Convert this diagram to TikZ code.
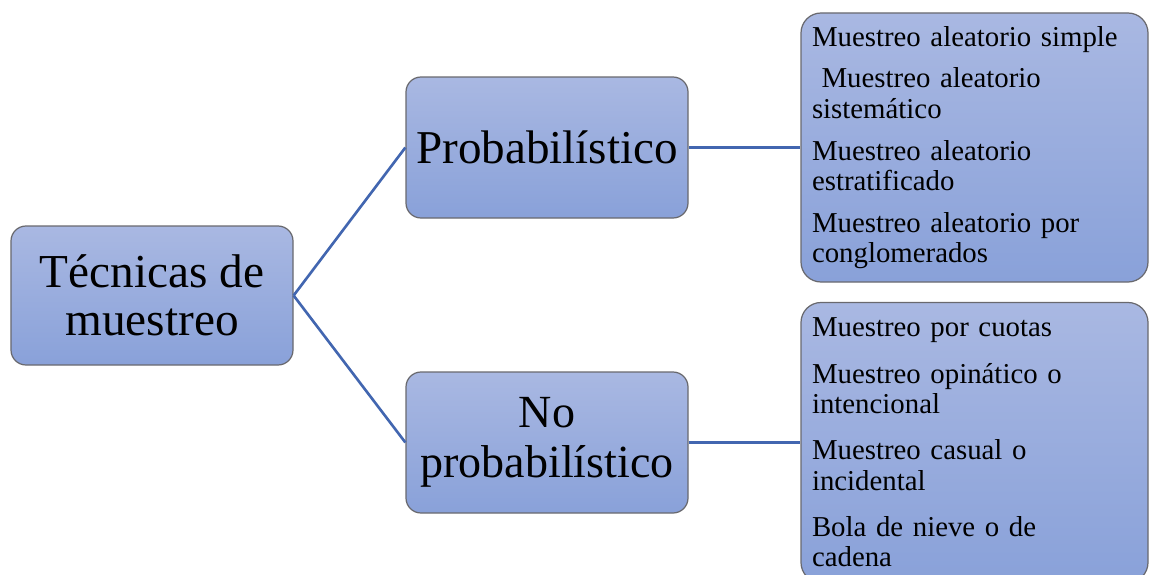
\documentclass[tikz,border=0pt]{standalone}
\usepackage{fontspec}
\setmainfont{Liberation Serif}
\usepackage{xcolor}
\usetikzlibrary{positioning}
\definecolor{boxTop}{RGB}{169,184,226}
\definecolor{boxBottom}{RGB}{137,161,217}
\definecolor{boxEdge}{RGB}{105,105,110}
\definecolor{linkBlue}{RGB}{66,102,176}

\begin{document}
\begin{tikzpicture}[x=0.2mm, y=-0.2mm,
	box/.style={rectangle, rounded corners=3mm, draw=boxEdge, line width=0.7pt, top color=boxTop, bottom color=boxBottom, align=center, inner sep=0pt},
	listbox/.style={box, rounded corners=4mm, align=left, text width=65mm, inner xsep=2.2mm, minimum width=69.4mm},
	link/.style={draw=linkBlue, line width=1.5pt}]
	\clip (0,0) rectangle (1150,575);
	% left and middle boxes
	\node[box, minimum width=56.4mm, minimum height=27.8mm, font=\fontsize{26.9}{27.2}\selectfont] (tecnicas) at (152,295.5){Técnicas de\\muestreo};
	\node[box, minimum width=56.4mm, minimum height=28.2mm, font=\fontsize{26.8}{28}\selectfont] (prob) at (547,147.5){Probabilístico};
	\node[box, minimum width=56.4mm, minimum height=28.2mm, font=\fontsize{26.2}{28.3}\selectfont] (noprob) at (547,442.5){No\\probabilístico};
	% lists on the right
	\node[listbox, minimum height=53.8mm, font=\fontsize{16.4}{17.3}\selectfont] (probList) at (974.5,147.5){Muestreo aleatorio simple\\[6.5pt]\ Muestreo aleatorio\\sistemático\\[6.5pt]Muestreo aleatorio\\estratificado\\[6.5pt]Muestreo aleatorio por\\conglomerados};
	\node[listbox, minimum height=56mm, font=\fontsize{16.4}{17.3}\selectfont] (noprobList) at (974.5,442.5){Muestreo por cuotas\\[9pt]Muestreo opinático o\\intencional\\[9pt]Muestreo casual o\\incidental\\[9pt]Bola de nieve o de\\cadena};
	% connectors
	\draw[link] (tecnicas.east) -- (prob.west);
	\draw[link] (tecnicas.east) -- (noprob.west);
	\draw[link] (prob.east) -- (probList.west);
	\draw[link] (noprob.east) -- (noprobList.west);
\end{tikzpicture}
\end{document}
